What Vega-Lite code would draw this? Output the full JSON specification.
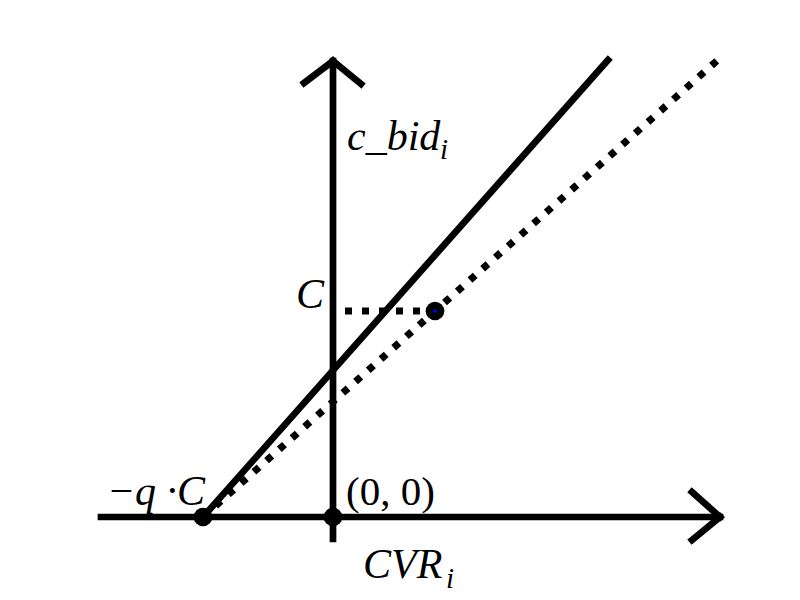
{
 "$schema": "https://vega.github.io/schema/vega-lite/v6.json",
 "width": 800, "height": 600,
 "autosize": {"type": "fit", "contains": "padding"},
 "padding": 0,
 "background": "white",
 "config": {"view": {"stroke": null}},
 "datasets": {
  "solid": [
   {"x": -232, "y": 0, "x2": 387, "y2": 0},
   {"x": 359, "y": 25, "x2": 387, "y2": 0},
   {"x": 359, "y": -23, "x2": 387, "y2": 0},
   {"x": 0, "y": -22, "x2": 0, "y2": 456},
   {"x": -29, "y": 434, "x2": 0, "y2": 456},
   {"x": 28, "y": 433, "x2": 0, "y2": 456},
   {"x": -130, "y": 0, "x2": 275, "y2": 457}
  ],
  "dotted": [
   {"x": -130, "y": 0, "x2": 387, "y2": 459},
   {"x": 12, "y": 206, "x2": 102, "y2": 206}
  ],
  "points": [
   {"x": -130, "y": 0},
   {"x": 0, "y": 0},
   {"x": 102, "y": 206}
  ],
  "center": [
   {"x": 102, "y": 206}
  ],
  "italicLeft": [
   {"x": 14, "y": 367, "t": "c_bid"},
   {"x": 30, "y": -61, "t": "CVR"}
  ],
  "italicRight": [
   {"x": -9, "y": 209, "t": "C"},
   {"x": -128, "y": 12, "t": "−q ·C"}
  ],
  "sub": [
   {"x": 107, "y": 358, "t": "i"},
   {"x": 113, "y": -71, "t": "i"}
  ],
  "upright": [
   {"x": 13, "y": 12, "t": "(0, 0)"}
  ]
 },
 "encoding": {
  "x": {"field": "x", "type": "quantitative", "scale": {"domain": [-333, 467], "nice": false, "zero": false}, "axis": null},
  "y": {"field": "y", "type": "quantitative", "scale": {"domain": [-83, 517], "nice": false, "zero": false}, "axis": null}
 },
 "layer": [
  {
   "data": {"name": "solid"},
   "mark": {"type": "rule", "color": "black", "strokeWidth": 6.7, "strokeCap": "square"},
   "encoding": {"x2": {"field": "x2"}, "y2": {"field": "y2"}}
  },
  {
   "data": {"name": "dotted"},
   "mark": {"type": "rule", "color": "black", "strokeWidth": 7.2, "strokeDash": [7, 10], "strokeCap": "butt"},
   "encoding": {"x2": {"field": "x2"}, "y2": {"field": "y2"}}
  },
  {
   "data": {"name": "points"},
   "mark": {"type": "circle", "color": "black", "size": 350, "opacity": 1}
  },
  {
   "data": {"name": "center"},
   "mark": {"type": "circle", "color": "blue", "size": 12, "opacity": 1}
  },
  {
   "data": {"name": "italicLeft"},
   "mark": {"type": "text", "font": "Liberation Serif", "fontStyle": "italic", "fontSize": 42, "align": "left", "baseline": "alphabetic", "color": "black"},
   "encoding": {"text": {"field": "t"}}
  },
  {
   "data": {"name": "italicRight"},
   "mark": {"type": "text", "font": "Liberation Serif", "fontStyle": "italic", "fontSize": 42, "align": "right", "baseline": "alphabetic", "color": "black"},
   "encoding": {"text": {"field": "t"}}
  },
  {
   "data": {"name": "sub"},
   "mark": {"type": "text", "font": "Liberation Serif", "fontStyle": "italic", "fontSize": 29, "align": "left", "baseline": "alphabetic", "color": "black"},
   "encoding": {"text": {"field": "t"}}
  },
  {
   "data": {"name": "upright"},
   "mark": {"type": "text", "font": "Liberation Serif", "fontSize": 41, "align": "left", "baseline": "alphabetic", "color": "black"},
   "encoding": {"text": {"field": "t"}}
  }
 ]
}
